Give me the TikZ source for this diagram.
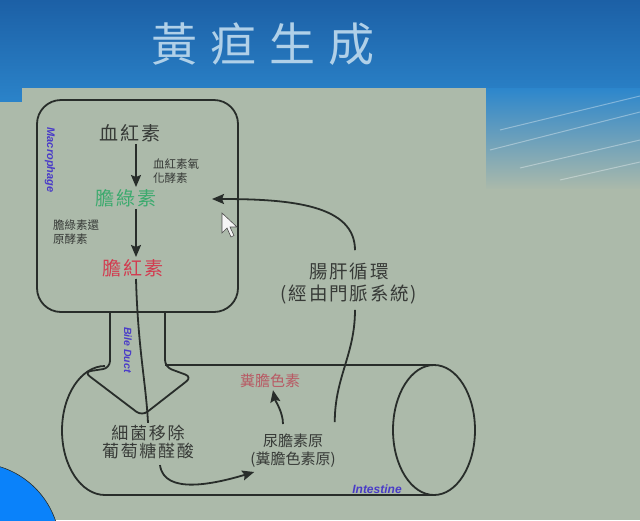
\documentclass[tikz,border=0pt]{standalone}
\usepackage{fontspec}
\setmainfont{Liberation Sans}
\newfontfamily\cjk{Noto Sans CJK TC}
\newfontfamily\cjks[LetterSpace=10]{Noto Sans CJK TC}
\usetikzlibrary{arrows.meta}
\definecolor{panel}{RGB}{172,186,170}
\definecolor{bluetop}{RGB}{28,96,166}
\definecolor{bluebot}{RGB}{44,134,204}
\definecolor{titlec}{RGB}{176,208,232}
\definecolor{ink}{RGB}{40,45,42}
\definecolor{txt}{RGB}{55,58,55}
\definecolor{grn}{RGB}{60,170,110}
\definecolor{red1}{RGB}{210,60,80}
\definecolor{red2}{RGB}{184,90,100}
\definecolor{labblue}{RGB}{74,60,200}
\definecolor{dotblue}{RGB}{10,130,250}
\tikzset{
  line/.style={draw=ink, line width=1.8pt},
  arr/.style={line, -{Stealth[length=12pt,width=10pt,inset=2pt]}},
  big/.style={text=txt, inner sep=2pt, font=\cjks\fontsize{19}{21}\selectfont},
  mid/.style={text=txt, inner sep=2pt, align=center, font=\cjks\fontsize{17}{18}\selectfont},
  small/.style={text=txt, inner sep=1pt, align=left, font=\cjk\fontsize{11.5}{14.5}\selectfont},
  lab/.style={text=labblue, inner sep=1pt, font=\fontsize{11}{12}\selectfont\bfseries\itshape}
}
\begin{document}
\begin{tikzpicture}[x=1pt,y=-1pt]
\useasboundingbox (0,0) rectangle (640,520);
% background
\shade[top color=bluetop, bottom color=bluebot] (0,0) rectangle (640,110);
\fill[panel] (22,88) rectangle (486,520);
\fill[panel] (0,102) rectangle (22,520);
\shade[top color=bluebot, bottom color=panel] (486,88) rectangle (640,190);
\fill[panel] (486,189) rectangle (640,520);
\foreach \a/\b/\c/\d in {490/150/640/112, 520/168/640/140, 500/130/640/96, 560/180/640/162}
  \draw[white, opacity=0.35, line width=1pt] (\a,\b) -- (\c,\d);
% title
\node[text=titlec, font=\cjk\fontsize{46}{50}\selectfont] (title) at (263,44)
  {黃\hspace{13pt}疸\hspace{13pt}生\hspace{13pt}成};
% macrophage box
\draw[line, rounded corners=24pt] (37,100) rectangle (238,312);
% bile duct arrow
\draw[line, rounded corners=7pt] (110,312) -- (110,368) -- (84,372) -- (142,416)
  -- (192,377) -- (165,367) -- (165,312);
% intestine
\draw[line] (165,365) -- (434,365);
\draw[line] (105,495) -- (434,495);
\draw[line] (105,366) arc[start angle=-90, end angle=-270, x radius=43, y radius=64.5];
\draw[line] (434,430) ellipse[x radius=41, y radius=65];
% nodes
\node[big] (heme) at (130,133) {血紅素};
\node[big, text=grn] (bv) at (126,198) {膽綠素};
\node[big, text=red1] (br) at (133,268) {膽紅素};
\node[small, anchor=west] (ho) at (152,171) {血紅素氧\\化酵素};
\node[small, anchor=west] (bvr) at (52,232) {膽綠素還\\原酵素};
\node[mid] (bact) at (148,442) {細菌移除\\葡萄糖醛酸};
\node[mid, font=\cjk\fontsize{15}{18}\selectfont] (urob) at (293,451) {尿膽素原\\(糞膽色素原)};
\node[text=red2, inner sep=2pt, font=\cjk\fontsize{15}{17}\selectfont] (sterco) at (270,381) {糞膽色素};
\node[mid, font=\cjks\fontsize{18.5}{22}\selectfont] (entero) at (349,284) {腸肝循環\\(經由門脈系統)};
\node[lab, rotate=-90] (mac) at (50,160) {Macrophage};
\node[lab, rotate=-90, font=\fontsize{10.5}{12}\selectfont\bfseries\itshape] (bile) at (128,350) {Bile Duct};
\node[lab, font=\fontsize{12}{13}\selectfont\bfseries\itshape] (intest) at (377,489) {Intestine};
% connectors
\coordinate (ax) at (136,0);
\coordinate (tip) at (212,199);
\draw[arr] (heme.south -| ax) -- (bv.north -| ax);
\draw[arr] (bv.south -| ax) -- (br.north -| ax);
\draw[line] (br.south -| ax) .. controls +(2,70) and +(-2,-40) .. (bact.north);
\draw[arr] ([xshift=12pt,yshift=-4pt]bact.south) .. controls +(4,30) and +(-40,12)
  .. ([xshift=6pt,yshift=-2pt]urob.south west);
\draw[arr] ([xshift=-10pt,yshift=8pt]urob.north) .. controls +(0,-12) and +(2,10) .. ([xshift=3pt]sterco.south);
\draw[line] ([xshift=-3pt,yshift=10pt]urob.north east) .. controls +(0,-45) and +(0,45)
  .. ([xshift=6pt,yshift=-3pt]entero.south);
\draw[arr] ([xshift=6pt,yshift=11pt]entero.north) .. controls +(0,-45) and +(80,0) .. (tip);
% cursor
\draw[fill=white!92!gray, draw=gray!60!black, line width=0.6pt]
  (222,213) -- (222,233) -- (227,228) -- (231,237) -- (234,235.5) -- (230,227) -- (237,227) -- cycle;
% blue dot
\fill[dotblue, draw=ink, line width=0.6pt] (-25,548) circle (85);
\end{tikzpicture}
\end{document}
